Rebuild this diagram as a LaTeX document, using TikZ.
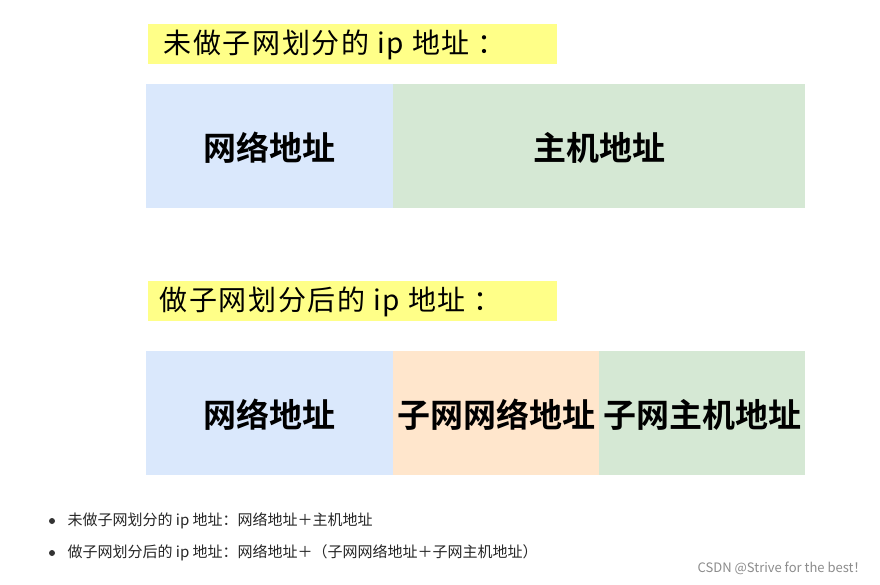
\documentclass[tikz,border=0pt]{standalone}
\usepackage{fontspec}
\setmainfont{Noto Sans CJK SC}
\newfontfamily\cjkb{Noto Sans CJK SC Bold}
\newfontfamily\cjkw[LetterSpace=6]{Noto Sans CJK SC}
\begin{document}
\begin{tikzpicture}[x=1pt,y=-1pt,
  hl/.style={fill={rgb,255:red,255;green,255;blue,136}, draw=none, minimum height=40pt, anchor=north west, inner sep=0pt},
  cell/.style={draw=none, minimum height=124pt, anchor=north west, inner sep=0pt, text depth=-2pt, font=\cjkb\fontsize{33}{36}\selectfont},
  bl/.style={fill={rgb,255:red,218;green,232;blue,252}},
  gr/.style={fill={rgb,255:red,213;green,232;blue,212}},
  orr/.style={fill={rgb,255:red,255;green,230;blue,204}},
  ttl/.style={font=\cjkw\fontsize{28}{30}\selectfont, anchor=west},
  bul/.style={font=\fontsize{15}{18}\selectfont, anchor=west, text=black!85}]
\useasboundingbox[fill=white] (0,0) rectangle (880,585);
\node[hl, minimum width=409pt] (h1) at (148,24) {};
\node[ttl] (t1) at (160,45) {未做子网划分的 ip 地址 ：};
\node[cell,bl,minimum width=247pt] (a1) at (146,84) {网络地址};
\node[cell,gr,minimum width=412pt] (a2) at (393,84) {主机地址};
\node[hl, minimum width=409pt] (h2) at (148,281) {};
\node[ttl] (t2) at (156,302) {做子网划分后的 ip 地址 ：};
\node[cell,bl,minimum width=247pt] (b1) at (146,351) {网络地址};
\node[cell,orr,minimum width=206pt] (b2) at (393,351) {子网网络地址};
\node[cell,gr,minimum width=206pt] (b3) at (599,351) {子网主机地址};
\fill[black!80] (52,521) circle (3pt);
\fill[black!80] (52,553) circle (3pt);
\node[bul] (l1) at (64,521) {未做子网划分的 ip 地址：网络地址＋主机地址};
\node[bul] (l2) at (64,553) {做子网划分后的 ip 地址：网络地址＋（子网网络地址＋子网主机地址）};
\node[anchor=east, font=\fontsize{13}{15}\selectfont, text=black!45] (wm) at (870,568) {CSDN @Strive for the best！};
\end{tikzpicture}
\end{document}
